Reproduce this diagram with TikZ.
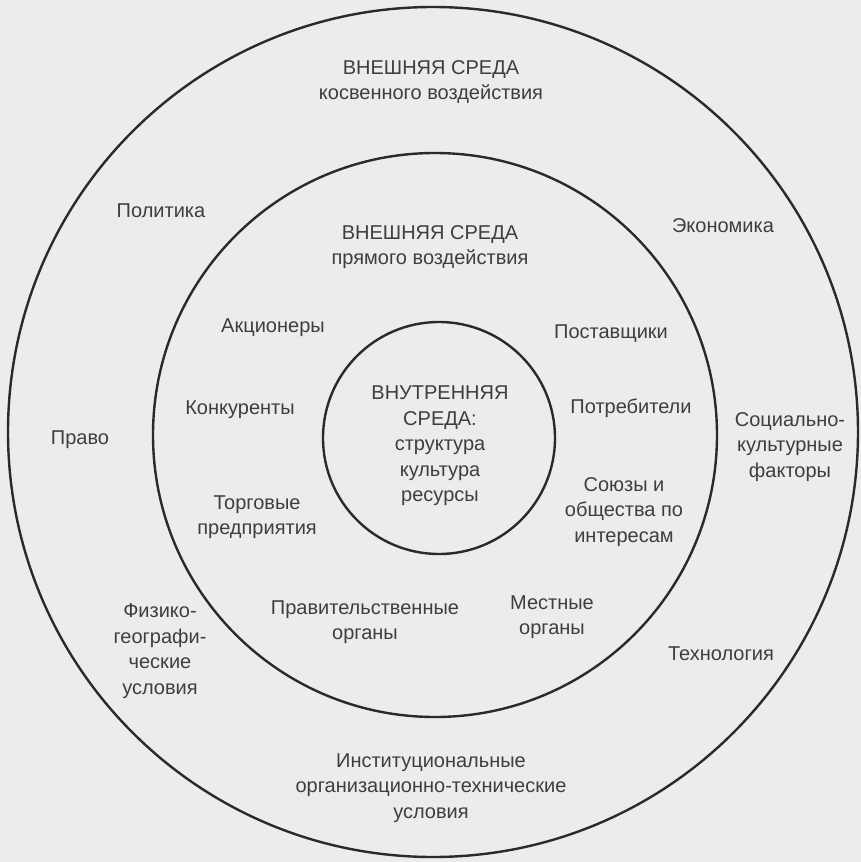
\documentclass[tikz,border=0pt]{standalone}
\usepackage{fontspec}
\setmainfont{Liberation Sans}
\usepackage{xcolor}

\definecolor{papel}{HTML}{ECECEC}
\definecolor{tinta}{HTML}{3E3E3E}
\definecolor{trazo}{HTML}{2A2A2A}

\begin{document}
\begin{tikzpicture}[x=1pt, y=-1pt,
        lbl/.style={text=tinta, align=center, inner sep=0pt,
                    font=\fontsize{20}{25.5}\selectfont},
        ring/.style={draw=trazo, line width=2.4pt}]
        % Fondo
        \fill[papel] (0, 0) rectangle (861, 862);
        \useasboundingbox (0, 0) rectangle (861, 862);

        % Circulos
        \draw[ring] (433, 432) circle[radius=425pt];
        \draw[ring] (435, 435) circle[radius=282pt];
        \draw[ring] (439, 438) circle[radius=116pt];

        % Entorno indirecto
        \node[lbl] (indir) at (431, 82) {ВНЕШНЯЯ СРЕДА\\косвенного воздействия};
        \node[lbl] (polit) at (161, 211) {Политика};
        \node[lbl] (econ) at (723, 226) {Экономика};
        \node[lbl] (pravo) at (80, 440) {Право};
        \node[lbl] (social) at (790, 447) {Социально-\\культурные\\факторы};
        \node[lbl] (fiz) at (160, 651) {Физико-\\географи-\\ческие\\условия};
        \node[lbl] (tekh) at (721, 654) {Технология};
        \node[lbl] (inst) at (431, 788) {Институциональные\\организационно-технические\\условия};

        % Entorno directo
        \node[lbl] (dir) at (430, 247) {ВНЕШНЯЯ СРЕДА\\прямого воздействия};
        \node[lbl] (accion) at (273, 328) {Акционеры};
        \node[lbl] (postav) at (611, 334) {Поставщики};
        \node[lbl] (konk) at (240, 410) {Конкуренты};
        \node[lbl] (potreb) at (631, 408) {Потребители};
        \node[lbl] (torg) at (257, 517) {Торговые\\предприятия};
        \node[lbl] (soyuz) at (624, 512) {Союзы и\\общества по\\интересам};
        \node[lbl] (prav) at (365, 622) {Правительственные\\органы};
        \node[lbl] (mest) at (552, 617) {Местные\\органы};

        % Entorno interno
        \node[lbl] (vnutr) at (440, 446) {ВНУТРЕННЯЯ\\СРЕДА:\\структура\\культура\\ресурсы};

    \end{tikzpicture}
\end{document}
